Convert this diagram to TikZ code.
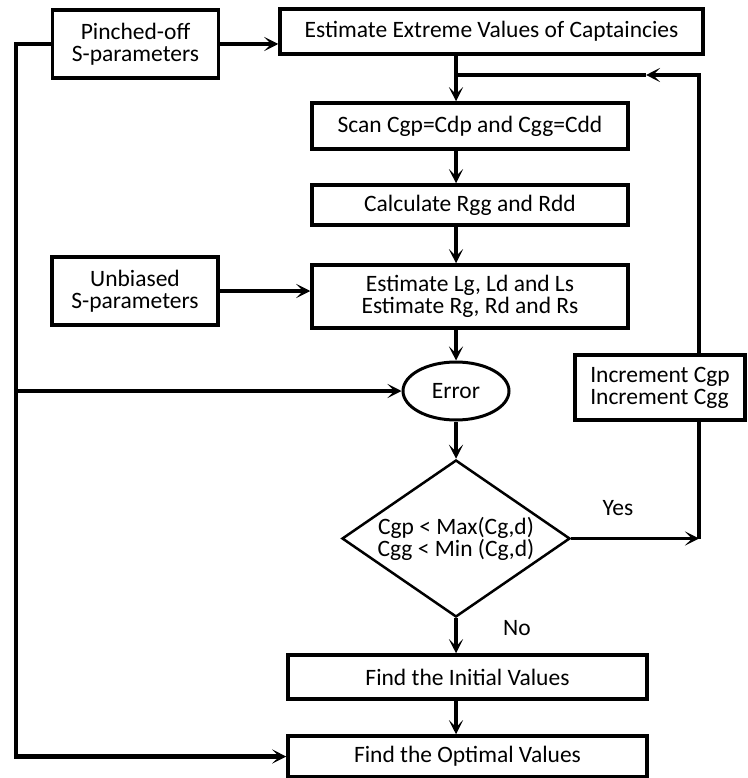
\documentclass[tikz,border=0pt]{standalone}
\usepackage{fontspec}
\setmainfont{Carlito}
\usetikzlibrary{arrows.meta,shapes.geometric,calc}
\begin{document}
\begin{tikzpicture}[x=1pt,y=-1pt,
  txt/.style={font=\fontsize{23.5}{22}\selectfont},
  box/.style={draw, line width=3.5pt, rectangle, inner sep=0pt, align=center, txt},
  con/.style={line width=3.5pt},
  arr/.style={con, -{Stealth[length=14pt,width=14pt,inset=7pt]}}
  ]
\useasboundingbox (0,0) rectangle (747,778);
\fill[white] (0,0) rectangle (747,778);

\node[box, minimum width=166pt, minimum height=68pt] (pinch) at (135.5,44) {Pinched-off\\S-parameters};
\node[box, minimum width=423pt, minimum height=45pt] (extreme) at (491.5,31.5) {Estimate Extreme Values of Captaincies};
\node[box, minimum width=316pt, minimum height=46pt] (scan) at (470,126) {Scan Cgp=Cdp and Cgg=Cdd};
\node[box, minimum width=316pt, minimum height=40pt] (calc) at (470,205) {Calculate Rgg and Rdd};
\node[box, minimum width=316pt, minimum height=63pt] (estl) at (470,296.5) {Estimate Lg, Ld and Ls\\Estimate Rg, Rd and Rs};
\node[box, minimum width=166pt, minimum height=68pt] (unb) at (135,291) {Unbiased\\S-parameters};
\node[draw, ellipse, line width=3pt, minimum width=106pt, minimum height=58pt, inner sep=0pt, txt] (err) at (456,391) {Error};
\node[box, minimum width=170pt, minimum height=65pt, align=left] (incr) at (660,387.5) {Increment Cgp\\Increment Cgg};
\node[draw, diamond, line width=2.5pt, minimum width=228pt, minimum height=157pt, inner sep=0pt, shape aspect=1.45, align=center, txt] (dia) at (456,538.5) {Cgp < Max(Cg,d)\\Cgg < Min (Cg,d)};
\node[box, minimum width=359pt, minimum height=44pt] (init) at (467.5,677) {Find the Initial Values};
\node[box, minimum width=359pt, minimum height=41pt] (opt) at (467.5,756.5) {Find the Optimal Values};
\node[txt] (yes) at (618,508) {Yes};
\node[txt] (no) at (517,628) {No};

\coordinate (L) at (16,0);
\coordinate (S) at (456,0);
\coordinate (R) at (699,0);
\coordinate (fbR) at (699,75);
\coordinate (fbM) at (646,75);
\coordinate (fbJ) at (456,75);

\draw[arr] (pinch.east) -- (pinch.east -| extreme.west);
\draw[arr, line width=4.5pt] (pinch.west) -- (pinch.west -| L) -- (opt.west -| L) -- (opt.west);
\draw[arr] (err.west -| L) -- (err.west);
\draw[arr] (extreme.south -| S) -- (scan.north -| S);
\draw[arr] (scan.south -| S) -- (calc.north -| S);
\draw[arr] (calc.south -| S) -- (estl.north -| S);
\draw[arr] (unb.east) -- (unb.east -| estl.west);
\draw[arr] (estl.south -| S) -- (err.north);
\draw[arr] (err.south) -- (dia.north);
\draw[arr] (dia.south) -- (init.north -| S);
\draw[arr] (init.south -| S) -- (opt.north -| S);
\draw[arr] (dia.east) -- (dia.east -| R);
\draw[con] (dia.east -| R) -- (incr.south -| R);
\draw[arr] (incr.north -| R) -- (fbR) -- (fbM);
\draw[con] (fbM) -- (fbJ);
\end{tikzpicture}
\end{document}
